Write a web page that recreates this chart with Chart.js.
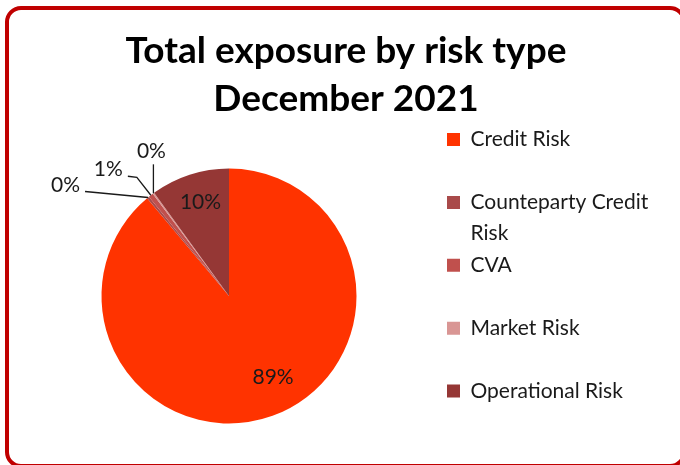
<!DOCTYPE html>
<html>
<head>
<meta charset="utf-8">
<script src="https://cdn.jsdelivr.net/npm/chart.js@4.4.1/dist/chart.umd.min.js"></script>
<style>
  html, body { margin: 0; padding: 0; background: #fff; }
  #wrap { width: 680px; height: 465px; }
</style>
</head>
<body>
<div id="wrap"><canvas id="chart" width="680" height="465"></canvas></div>
<script>
// data (percent of total exposure)
const categories = ["Credit Risk", "Counteparty Credit Risk", "CVA", "Market Risk", "Operational Risk"];
const shares = [88.9, 0.3, 0.6, 0.2, 10.0];
const colors = ["#FF3300", "#A94A4A", "#C0504D", "#D99694", "#953735"];
const titleLines = ["Total exposure by risk type", "December 2021"];
// legend wraps this one like the original
const legendWrap = { "Counteparty Credit Risk": ["Counteparty Credit", "Risk"] };

const textColor = "#1a1a1a";
const FONT = "Lato";

// where each percent label goes (inside: turn in deg + radius fraction;
// outside: offsets from the slice's outer midpoint)
const labelPlace = [
  { inside: true, turn: -8.5, f: 0.725 },
  { align: "right", dx: -68, dy: -12, leader: [[-63, -6]] },
  { align: "right", dx: -28, dy: -26, leader: [[-14, -18], [-23, -19]] },
  { align: "center", dx: -2, dy: -42, leader: [[0, -29]] },
  { inside: true, turn: 1, f: 0.765 },
];

// legend box must start at x=445 so the pie sits at x=229
const legendFontSize = 21;
const legendPad = 2;
const mctx = document.createElement("canvas").getContext("2d");
mctx.font = `${legendFontSize}px ${FONT}`;
const longest = mctx.measureText("Counteparty Credit").width;
const legendW = legendPad + 13 + legendFontSize / 2 + longest + 10;
const padRight = Math.max(0, 680 - 445 - legendW);

const frameAndTitle = {
  id: "frameAndTitle",
  beforeDraw(chart) {
    const { ctx } = chart;
    ctx.save();
    ctx.fillStyle = "#fff";
    ctx.fillRect(0, 0, chart.width, chart.height);
    // red rounded frame, right and bottom edges run just past the picture
    ctx.strokeStyle = "#C00000";
    ctx.lineWidth = 4;
    ctx.beginPath();
    ctx.roundRect(7, 8, 677, 458, 14);
    ctx.stroke();
    ctx.fillStyle = "#000";
    ctx.font = `bold 37px ${FONT}`;
    ctx.textAlign = "center";
    ctx.textBaseline = "alphabetic";
    titleLines.forEach((t, i) => ctx.fillText(t, 346, 63 + i * 48));
    ctx.restore();
  },
};

const sliceLabels = {
  id: "sliceLabels",
  afterDatasetsDraw(chart) {
    const { ctx } = chart;
    const meta = chart.getDatasetMeta(0);
    const total = shares.reduce((a, b) => a + b, 0);
    ctx.save();
    ctx.font = `21px ${FONT}`;
    ctx.fillStyle = textColor;
    ctx.strokeStyle = textColor;
    ctx.lineWidth = 1.3;
    ctx.textBaseline = "middle";
    meta.data.forEach((arc, i) => {
      const p = labelPlace[i];
      const txt = Math.round((shares[i] / total) * 100) + "%";
      const { x, y, startAngle, endAngle, outerRadius } = arc.getProps(
        ["x", "y", "startAngle", "endAngle", "outerRadius"],
        true,
      );
      const mid = (startAngle + endAngle) / 2;
      if (p.inside) {
        const a = mid + (p.turn * Math.PI) / 180;
        const r = outerRadius * p.f;
        ctx.textAlign = "center";
        ctx.fillText(txt, x + Math.cos(a) * r, y + Math.sin(a) * r);
      } else {
        const ox = x + Math.cos(mid) * outerRadius;
        const oy = y + Math.sin(mid) * outerRadius;
        ctx.beginPath();
        ctx.moveTo(ox, oy);
        p.leader.forEach(([dx, dy]) => ctx.lineTo(ox + dx, oy + dy));
        ctx.stroke();
        ctx.textAlign = p.align;
        ctx.fillText(txt, ox + p.dx, oy + p.dy);
      }
    });
    ctx.restore();
  },
};

new Chart(document.getElementById("chart"), {
  type: "pie",
  data: {
    labels: categories,
    datasets: [
      {
        data: shares,
        backgroundColor: colors,
        borderWidth: 0,
        radius: 127.5,
      },
    ],
  },
  options: {
    responsive: false,
    animation: false,
    layout: { padding: { top: 127, bottom: 0, left: 13, right: padRight } },
    plugins: {
      title: { display: false },
      tooltip: { enabled: false },
      legend: {
        position: "right",
        align: "start",
        labels: {
          boxWidth: 13,
          boxHeight: 13,
          padding: legendPad,
          color: textColor,
          font: { family: FONT, size: legendFontSize, lineHeight: 1.45 },
          generateLabels: () =>
            categories.map((c, i) => ({
              text: legendWrap[c] || [c, ""],
              fillStyle: colors[i],
              strokeStyle: colors[i],
              lineWidth: 0,
              fontColor: textColor,
              hidden: false,
              index: i,
            })),
        },
      },
    },
  },
  plugins: [frameAndTitle, sliceLabels],
});
</script>
</body>
</html>
